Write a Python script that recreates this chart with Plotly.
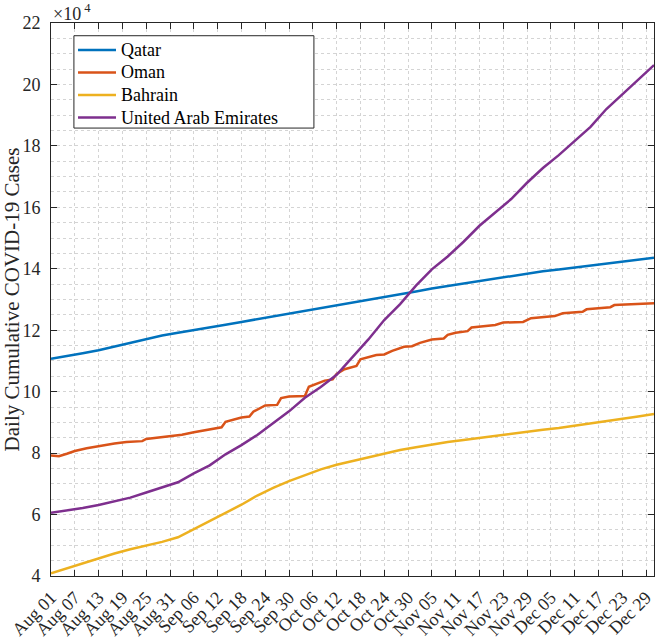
import pandas as pd
import plotly.graph_objects as go

# ---------------- data (cumulative cases) ----------------
common_dates = pd.date_range("2020-08-01", "2020-12-31", freq="4D")

qatar = [110700, 111500, 112500, 113500, 114700, 116000, 117300, 118300, 119200, 120000,
         120800, 121800, 122700, 123600, 124500, 125400, 126200, 127000, 127900, 128900,
         129800, 130800, 131700, 132600, 133600, 134400, 135300, 136100, 136900, 137700,
         138500, 139200, 139800, 140400, 141000, 141700, 142300, 142900, 143600]

bahrain = [40900, 42500, 44100, 45800, 47300, 48700, 49900, 51100, 52600, 55300,
           57900, 60600, 63200, 66200, 68700, 70900, 72800, 74700, 76200, 77400,
           78700, 79900, 81000, 81900, 82800, 83600, 84300, 85000, 85700, 86300,
           87000, 87600, 88200, 88900, 89700, 90400, 91200, 91900, 92700]

uae = [60600, 61300, 62100, 63100, 64200, 65500, 67200, 68800, 70500, 73400,
       76000, 79600, 82600, 85900, 89600, 93600, 98000, 101500, 105500, 111400,
       117000, 123300, 128500, 134500, 139800, 144000, 148800, 154000, 158500, 162700,
       168000, 172800, 177000, 181500, 186200, 192000, 196800, 201500, 206300]

oman_dates = ["2020-08-01", "2020-08-03", "2020-08-05", "2020-08-07", "2020-08-10",
              "2020-08-13", "2020-08-17", "2020-08-20", "2020-08-24", "2020-08-25",
              "2020-08-28", "2020-08-31", "2020-09-03", "2020-09-06", "2020-09-10",
              "2020-09-13", "2020-09-14", "2020-09-16", "2020-09-18", "2020-09-20",
              "2020-09-21", "2020-09-24", "2020-09-27", "2020-09-28", "2020-09-30",
              "2020-10-04", "2020-10-05", "2020-10-09", "2020-10-11", "2020-10-12",
              "2020-10-14", "2020-10-17", "2020-10-18", "2020-10-22", "2020-10-24",
              "2020-10-26", "2020-10-29", "2020-10-31", "2020-11-02", "2020-11-05",
              "2020-11-08", "2020-11-09", "2020-11-11", "2020-11-14", "2020-11-15",
              "2020-11-21", "2020-11-23", "2020-11-28", "2020-11-30", "2020-12-04",
              "2020-12-06", "2020-12-08", "2020-12-13", "2020-12-14", "2020-12-20",
              "2020-12-21", "2020-12-26", "2020-12-31"]
oman = [79200, 79000, 79800, 80700, 81600, 82300, 83100, 83600, 83900, 84600,
        85000, 85500, 86000, 86800, 87800, 88400, 90200, 91000, 91600, 91900,
        93500, 95500, 95700, 97900, 98400, 98600, 101600, 103600, 104000, 105800,
        107300, 108400, 110500, 111900, 112100, 113300, 114600, 114800, 115900, 117000,
        117300, 118500, 119200, 119700, 120900, 121700, 122500, 122700, 123900, 124400,
        124600, 125500, 126000, 126800, 127500, 128200, 128500, 128800]

x_tick_vals = pd.date_range("2020-08-01", "2020-12-29", freq="6D")
x_tick_text = [d.strftime("%b %d") for d in x_tick_vals]
y_tick_vals = list(range(40000, 220001, 20000))
y_tick_text = [str(v // 10000) for v in y_tick_vals]

names = ["Qatar", "Oman", "Bahrain", "United Arab Emirates"]
colors = ["#0072BD", "#D95319", "#EDB120", "#7E2F8E"]

FONT = "Liberation Serif, Times New Roman, serif"
AX = "#262626"
GRID = "#d4d4d4"
LW = 2.5

fig = go.Figure()
series = [(common_dates, qatar), (oman_dates, oman), (common_dates, bahrain), (common_dates, uae)]
for (xs, ys), nm, c in zip(series, names, colors):
    fig.add_trace(go.Scatter(x=xs, y=ys, mode="lines", name=nm,
                             line=dict(color=c, width=LW), showlegend=False))

# ---- legend box (drawn as shapes + text, MATLAB-style) ----
L_X0, L_X1, L_Y0, L_Y1 = 0.038, 0.436, 0.81, 0.977
ROW_Y = [0.9512, 0.9105, 0.8698, 0.8291]
shapes = [dict(type="rect", xref="paper", yref="paper", x0=L_X0, x1=L_X1, y0=L_Y0, y1=L_Y1,
               line=dict(color=AX, width=1), fillcolor="white", layer="above")]
annotations = [dict(xref="paper", yref="paper", x=0.0, y=1.0, xanchor="left",
                    yanchor="bottom", yshift=-3, showarrow=False,
                    text="×10<sup> 4</sup>", font=dict(family=FONT, size=18, color=AX))]
for nm, c, ry in zip(names, colors, ROW_Y):
    shapes.append(dict(type="line", xref="paper", yref="paper", x0=0.0448, x1=0.1078,
                       y0=ry, y1=ry, line=dict(color=c, width=LW), layer="above"))
    annotations.append(dict(xref="paper", yref="paper", x=0.1128, y=ry, xanchor="left",
                            yanchor="middle", showarrow=False, text=nm,
                            font=dict(family=FONT, size=18, color="black")))

fig.update_layout(
    width=656, height=640,
    margin=dict(l=51, r=2, t=23, b=64),
    paper_bgcolor="white", plot_bgcolor="white",
    font=dict(family=FONT, color=AX, size=18),
    showlegend=False,
    shapes=shapes,
    annotations=annotations,
)

fig.update_xaxes(
    type="date", range=["2020-08-01", "2020-12-31"],
    tickvals=x_tick_vals, ticktext=x_tick_text, tickangle=-45,
    ticks="inside", ticklen=6, tickcolor=AX, tickwidth=1,
    showline=True, linecolor=AX, linewidth=1, mirror="ticks",
    showgrid=True, gridcolor=GRID, griddash="dot", gridwidth=1,
    zeroline=False, tickfont=dict(family=FONT, size=18, color=AX),
    ticklabelstandoff=3,
    automargin=False,
)
fig.update_yaxes(
    range=[40000, 220000],
    tickvals=y_tick_vals, ticktext=y_tick_text,
    ticks="inside", ticklen=6, tickcolor=AX, tickwidth=1,
    showline=True, linecolor=AX, linewidth=1, mirror="ticks",
    showgrid=True, gridcolor=GRID, griddash="dot", gridwidth=1,
    minor=dict(dtick=5000, tick0=0, showgrid=True, gridcolor=GRID, griddash="dot", ticks=""),
    zeroline=False, tickfont=dict(family=FONT, size=18, color=AX),
    ticklabelstandoff=6,
    title=dict(text="Daily Cumulative COVID-19 Cases", standoff=2,
               font=dict(family=FONT, size=21, color=AX)),
    automargin=False,
)

fig.write_html("out.html", config={"displayModeBar": False},
               post_script="document.body.style.margin='0px';")
